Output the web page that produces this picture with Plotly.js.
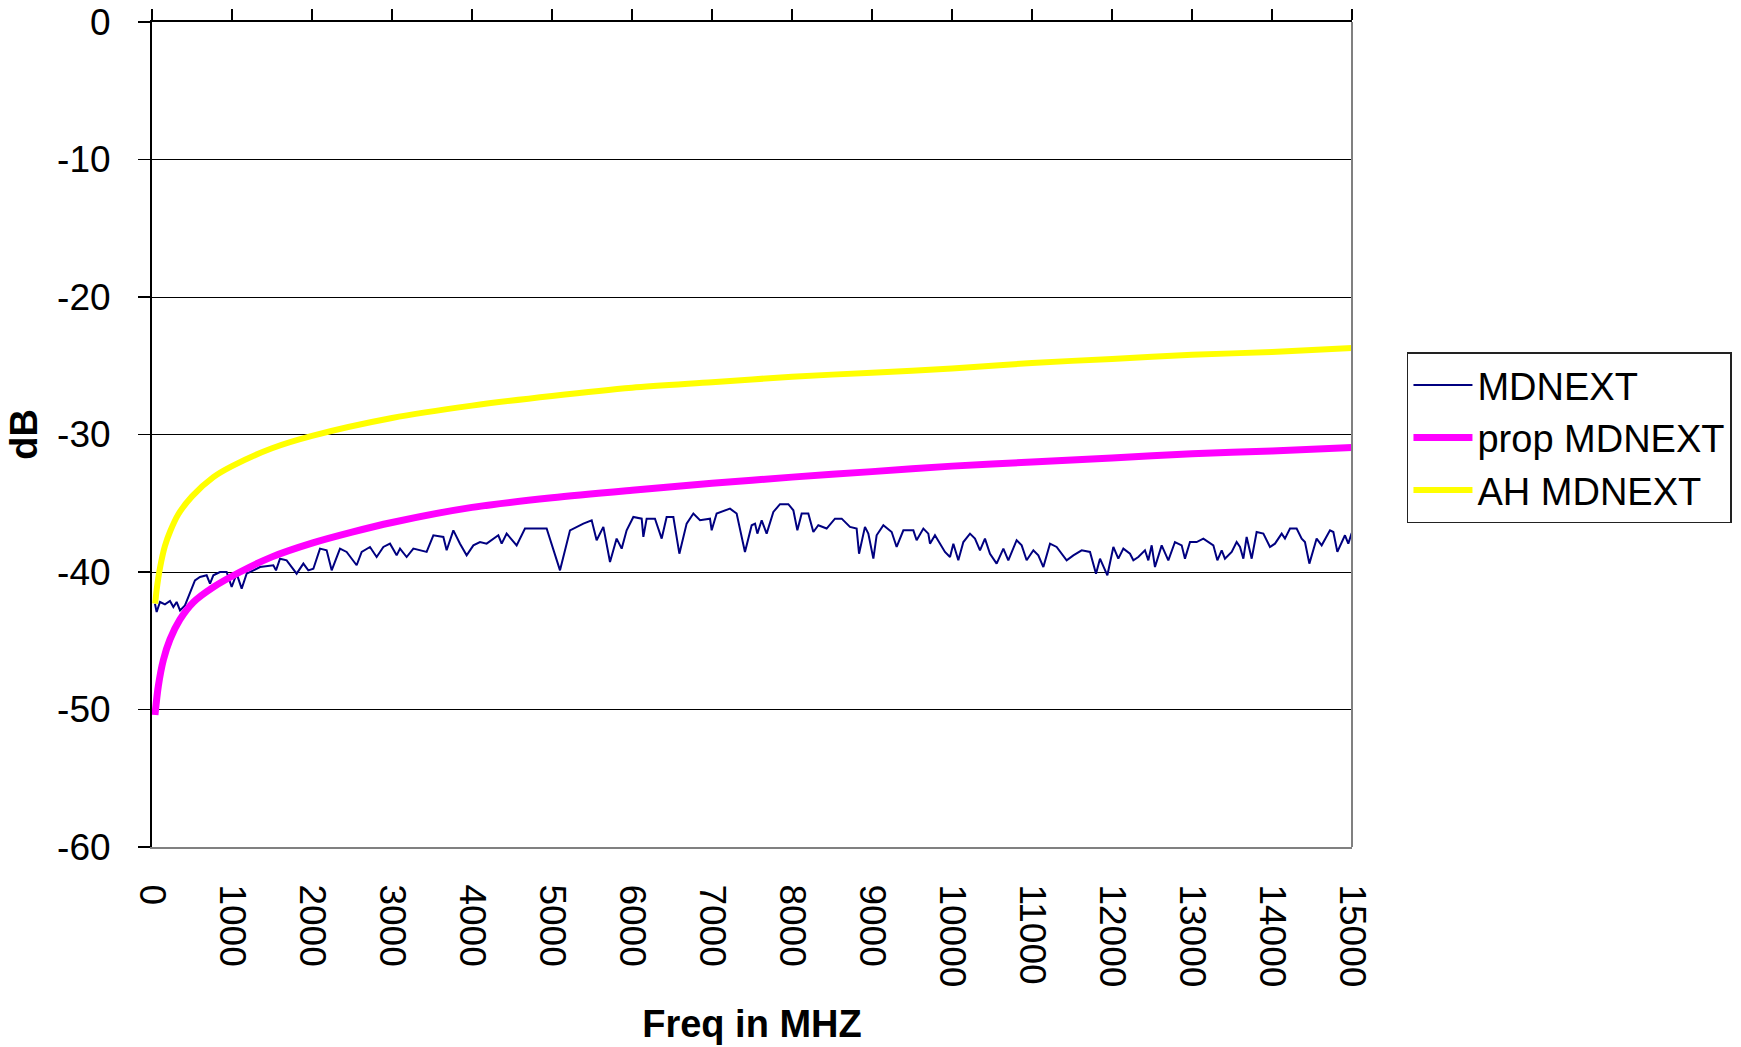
<!DOCTYPE html>
<html>
<head>
<meta charset="utf-8">
<script src="https://cdn.plot.ly/plotly-3.0.1.min.js"></script>
<style>html,body{margin:0;padding:0;background:#fff;}#chart{width:1741px;height:1047px;}</style>
</head>
<body>
<div id="chart"></div>
<script>
// MDNEXT measured trace (MHz, dB)
const mdnextFreq = [37,58,100,162,225,267,308,350,412,475,537,600,683,725,767,850,933,996,1058,1121,1183,1267,1350,1517,1550,1600,1683,1808,1892,1954,2017,2100,2183,2246,2350,2433,2558,2621,2725,2808,2892,2975,3058,3100,3183,3267,3433,3517,3642,3683,3767,3850,3933,4017,4100,4183,4329,4371,4433,4558,4662,4933,5100,5225,5392,5496,5558,5642,5725,5808,
5871,5933,6017,6121,6142,6183,6287,6371,6433,6517,6592,6683,6767,6850,6975,6996,7058,7225,7308,7412,7496,7538,7567,7621,7683,7767,7850,7954,8017,8067,8121,8204,8267,8329,8433,8537,8621,8725,8808,8838,8912,8954,9017,9058,9142,9246,9308,9392,9517,9558,9642,9704,9725,9787,9850,9912,9975,10017,10079,10142,10225,10287,10350,10412,10475,10558,10642,10704,10808,10871,10933,11017,11079,11142,11225,11308,11433,11517,11621,11725,11800,11850,11942,
12017,12079,12142,12225,12267,12329,12412,12454,12496,12537,12621,12704,12787,12871,12912,12975,13058,13142,13267,13317,13371,13412,13496,13558,13600,13642,13683,13746,13808,13892,13975,14037,14121,14162,14225,14308,14371,14412,14467,14558,14621,14725,14767,14817,14871,14912,14954,14996];
const mdnextDb = [-42.31,-42.91,-42.18,-42.35,-42.11,-42.55,-42.18,-42.79,-42.43,-41.58,-40.61,-40.36,-40.24,-40.85,-40.24,-40.00,-40.00,-41.09,-40.12,-41.21,-40.12,-39.88,-39.64,-39.51,-39.88,-39.03,-39.15,-40.12,-39.39,-39.88,-39.76,-38.30,-38.42,-39.88,-38.30,-38.54,-39.51,-38.54,-38.18,-38.91,-38.18,-37.94,-38.79,-38.30,-38.91,-38.30,-38.54,-37.33,-37.45,-38.42,-36.97,-37.94,-38.79,-38.06,-37.82,-37.94,-37.33,-37.94,-37.21,-38.06,-36.84,-36.84,-39.88,-36.97,-36.48,-36.24,-37.69,-36.72,-39.27,-37.57,
-38.30,-36.97,-36.00,-36.12,-37.45,-36.12,-36.12,-37.57,-36.00,-36.00,-38.67,-36.48,-35.75,-36.24,-36.12,-36.97,-35.75,-35.39,-35.75,-38.54,-36.60,-36.48,-37.21,-36.24,-37.21,-35.63,-35.07,-35.07,-35.51,-36.97,-35.75,-35.75,-37.09,-36.60,-36.84,-36.12,-36.12,-36.72,-36.84,-38.67,-36.72,-37.21,-39.03,-37.33,-36.60,-37.09,-38.18,-36.97,-36.97,-37.69,-36.84,-37.21,-37.94,-37.33,-37.94,-38.54,-38.91,-37.94,-39.15,-37.82,-37.21,-37.57,-38.42,-37.57,-38.67,-39.39,-38.30,-39.15,-37.69,-38.06,-39.15,-38.42,-38.79,-39.64,-37.94,-38.18,-39.15,-38.79,-38.42,-38.54,-40.12,-39.03,-40.24,
-38.18,-39.03,-38.30,-38.67,-39.15,-38.91,-38.42,-39.15,-38.06,-39.64,-38.06,-39.15,-37.82,-38.06,-39.03,-37.82,-37.82,-37.57,-38.06,-39.15,-38.42,-39.03,-38.54,-37.82,-38.18,-39.03,-37.45,-39.03,-37.09,-37.21,-38.18,-37.94,-37.21,-37.57,-36.84,-36.84,-37.57,-37.82,-39.39,-37.57,-38.06,-36.97,-37.09,-38.54,-37.82,-37.33,-37.94,-37.16];

// prop MDNEXT
const propFreq = [37,79,142,225,350,517,767,1100,1500,2000,2500,3000,4000,5000,6000,7000,8000,9000,10000,11000,12000,13000,14000,15000];
const propDb = [-50.4,-48.3,-46.4,-44.9,-43.45,-42.2,-41.1,-40.0,-38.9,-37.9,-37.1,-36.4,-35.3,-34.6,-34.05,-33.55,-33.1,-32.7,-32.3,-32.0,-31.7,-31.4,-31.2,-30.95];

// AH MDNEXT
const ahFreq = [40,58,100,162,230,329,500,767,1000,1500,2000,3000,4000,5000,6000,7000,8000,9000,10000,11000,12000,13000,14000,15000];
const ahDb = [-42.3,-41.3,-39.7,-38.1,-37.0,-35.8,-34.5,-33.1,-32.3,-31.0,-30.1,-28.8,-27.9,-27.2,-26.6,-26.2,-25.8,-25.5,-25.2,-24.8,-24.5,-24.2,-24.0,-23.7];

const xTicks = [0,1000,2000,3000,4000,5000,6000,7000,8000,9000,10000,11000,12000,13000,14000,15000];
const yTicks = [0,-10,-20,-30,-40,-50,-60];

const FONT = 'Liberation Sans, Arial, sans-serif';

const traces = [
  {x: mdnextFreq, y: mdnextDb, name: 'MDNEXT', type: 'scatter', mode: 'lines',
   line: {color: '#000080', width: 2}, legendgroup: 'a', hoverinfo: 'skip'},
  {x: propFreq, y: propDb, name: 'prop MDNEXT', type: 'scatter', mode: 'lines',
   line: {color: '#FF00FF', width: 7, shape: 'spline', smoothing: 0.8}, legendgroup: 'b', hoverinfo: 'skip'},
  {x: ahFreq, y: ahDb, name: 'AH MDNEXT', type: 'scatter', mode: 'lines', xaxis: 'x2',
   line: {color: '#FFFF00', width: 6, shape: 'spline', smoothing: 0.8}, legendgroup: 'c', hoverinfo: 'skip'}
];

const layout = {
  width: 1741, height: 1047,
  margin: {l: 152, r: 389, t: 22, b: 200, autoexpand: false},
  paper_bgcolor: '#fff', plot_bgcolor: '#fff',
  font: {family: FONT, color: '#000', size: 36},
  showlegend: true,
  legend: {x: 1.0458, y: 0.5995, xanchor: 'left', yanchor: 'top',
    bordercolor: '#222', borderwidth: 1.5, bgcolor: '#fff', itemwidth: 59,
    font: {family: FONT, size: 38, color: '#000'}, tracegroupgap: 0},
  xaxis: {range: [0, 15000], tickvals: xTicks, ticktext: xTicks.map(String), tickangle: 90,
    ticks: '', showgrid: false, zeroline: false, showline: true, linecolor: '#808080', linewidth: 2,
    tickfont: {family: FONT, size: 37, color: '#000'}, ticklabelstandoff: 28,
    title: {text: '<b>Freq in MHZ</b>', font: {family: FONT, size: 38, color: '#000'}, standoff: 24},
    fixedrange: true},
  xaxis2: {range: [0, 15000], overlaying: 'x', side: 'top', anchor: 'y', tickvals: xTicks,
    showticklabels: false, ticks: 'outside', ticklen: 11, tickwidth: 1.5, tickcolor: '#000',
    showline: true, linecolor: '#000', linewidth: 2, showgrid: false, zeroline: false, fixedrange: true},
  yaxis: {range: [-60, 0], tickvals: yTicks, ticktext: yTicks.map(String),
    ticks: 'outside', ticklen: 12, tickwidth: 1.5, tickcolor: '#000',
    showline: true, linecolor: '#000', linewidth: 2,
    showgrid: true, gridcolor: '#000', gridwidth: 1, zeroline: false,
    tickfont: {family: FONT, size: 37, color: '#000'}, ticklabelstandoff: 20,
    title: {text: '<b>dB</b>', font: {family: FONT, size: 38, color: '#000'}, standoff: 8},
    fixedrange: true},
  shapes: [
    {type: 'line', xref: 'paper', yref: 'paper', x0: 1, x1: 1, y0: 0, y1: 1,
     line: {color: '#808080', width: 2}}
  ]
};

Plotly.newPlot('chart', traces, layout, {displayModeBar: false, staticPlot: true});
</script>
</body>
</html>
